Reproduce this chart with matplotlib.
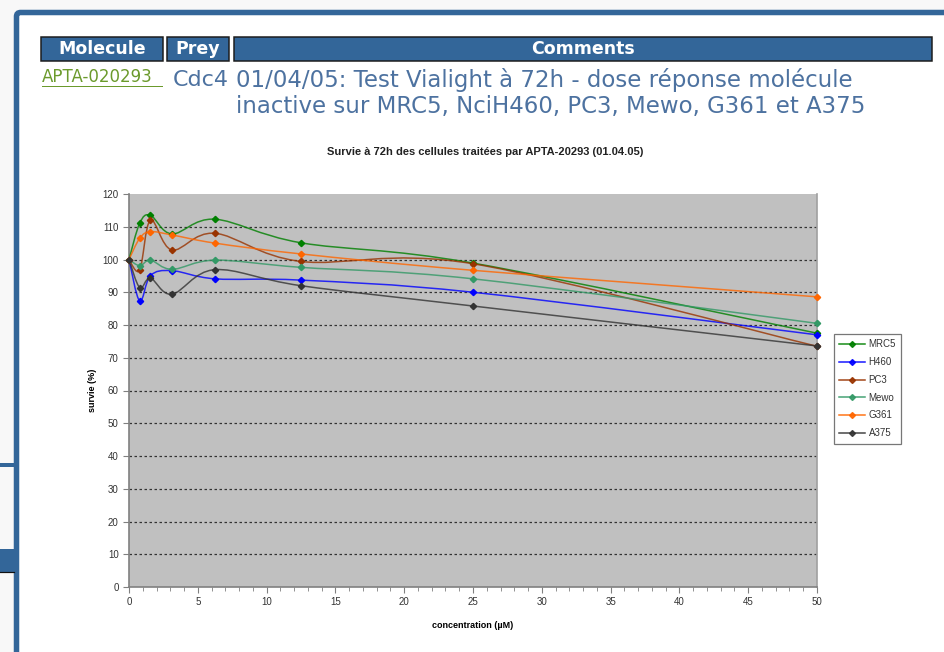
import numpy as np
import matplotlib
matplotlib.use("Agg")
import matplotlib.pyplot as plt
from matplotlib.path import Path
from matplotlib.patches import PathPatch, Rectangle, FancyBboxPatch
from matplotlib.lines import Line2D

# ---------------------------
# Data
# ---------------------------
conc = [0, 0.78, 1.56, 3.125, 6.25, 12.5, 25, 50]
mrc5 = [100, 111.1, 113.5, 107.8, 112.3, 105.1, 98.9, 77.5]
h460 = [100, 87.3, 95.1, 96.6, 94.1, 93.7, 90.0, 77.0]
pc3 = [100, 96.8, 112.0, 102.9, 108.0, 99.4, 98.7, 73.5]
mewo = [100, 98.1, 99.8, 97.0, 99.8, 97.6, 94.1, 80.5]
g361 = [100, 106.5, 108.5, 107.5, 105.0, 101.7, 96.7, 88.6]
a375 = [100, 91.4, 94.3, 89.4, 96.9, 92.0, 85.8, 73.6]

series_names = ["MRC5", "H460", "PC3", "Mewo", "G361", "A375"]
series_vals = [mrc5, h460, pc3, mewo, g361, a375]
series_cols = ["#008000", "#0000ff", "#993300", "#339966", "#ff6600", "#333333"]

W, H = 944, 652
fig = plt.figure(figsize=(W / 100, H / 100), dpi=100, facecolor="#f8f8f8")

# ---------------------------
# Page background (pixel coordinates)
# ---------------------------
bg = fig.add_axes([0, 0, 1, 1])
bg.set_xlim(0, W)
bg.set_ylim(H, 0)
bg.axis("off")

BLUE = "#336699"
PX = 72 / 100  # points per pixel

bg.add_patch(FancyBboxPatch((16.5, 12.5), 1100, 800,
                            boxstyle="round,pad=0,rounding_size=4",
                            facecolor="white", edgecolor=BLUE, lw=5.5 * PX))
# bits of the page behind the frame
bg.add_patch(Rectangle((0, 463), 14, 4, facecolor=BLUE, edgecolor="none"))
bg.add_patch(Rectangle((0, 549), 14, 23, facecolor=BLUE, edgecolor="none"))
bg.plot([0, 14], [572, 572], color="#111111", lw=1.2 * PX)

# header cells
cells = [(41, 163, "Molecule"), (167, 229, "Prey"), (234, 932, "Comments")]
for x0, x1, lab in cells:
    bg.add_patch(Rectangle((x0, 37), x1 - x0, 24, facecolor=BLUE,
                           edgecolor="#1b1b1b", lw=1.5 * PX))
    bg.text((x0 + x1) / 2, 49.5, lab, color="white", fontsize=12.5,
            fontweight="bold", ha="center", va="center", family="DejaVu Sans")

bg.text(42, 77, "APTA-020293", color="#6b9a2c", fontsize=12,
        ha="left", va="center", family="DejaVu Sans")
bg.plot([42, 162], [86, 86], color="#6b9a2c", lw=1 * PX)
TXT = "#4d72a0"
bg.text(173, 80, "Cdc4", color=TXT, fontsize=16, ha="left", va="center",
        family="DejaVu Sans")
bg.text(236, 80, "01/04/05: Test Vialight à 72h - dose réponse molécule",
        color=TXT, fontsize=16.5, ha="left", va="center", family="DejaVu Sans")
bg.text(236, 106, "inactive sur MRC5, NciH460, PC3, Mewo, G361 et A375",
        color=TXT, fontsize=16.5, ha="left", va="center", family="DejaVu Sans")

# ---------------------------
# Chart
# ---------------------------
L, R, T, B = 129, 817, 194, 587
ax = fig.add_axes([L / W, (H - B) / H, (R - L) / W, (B - T) / H])
ax.set_facecolor("#c0c0c0")
ax.set_xlim(0, 50)
ax.set_ylim(0, 120)

CF = "Liberation Sans"
ax.spines["top"].set_visible(False)
ax.spines["right"].set_color("#a0a0a0")
ax.spines["left"].set_color("#808080")
ax.spines["bottom"].set_color("#808080")
for s in ["left", "bottom", "right"]:
    ax.spines[s].set_linewidth(1.2)

ax.set_yticks(np.arange(0, 121, 10))
ax.set_xticks(np.arange(0, 51, 5))
ax.set_xticks(np.arange(0, 51, 1), minor=True)
ax.tick_params(axis="both", which="major", direction="out", length=4,
               color="#808080", labelsize=7, labelcolor="#333333")
ax.tick_params(axis="x", which="minor", direction="out", length=3,
               color="#808080")
for lab in ax.get_xticklabels() + ax.get_yticklabels():
    lab.set_family(CF)

for v in range(10, 120, 10):
    ax.axhline(v, color="#333333", lw=0.9, ls=(0, (2, 2)), zorder=1)


def smooth_path(xs, ys):
    # Excel-style smoothed line: cubic Bezier through the points
    pts = np.column_stack([xs, ys]).astype(float)
    n = len(pts)
    verts = [pts[0]]
    codes = [Path.MOVETO]
    for i in range(n - 1):
        p0 = pts[i - 1] if i > 0 else pts[i]
        p1 = pts[i]
        p2 = pts[i + 1]
        p3 = pts[i + 2] if i + 2 < n else pts[i + 1]
        c1 = p1 + (p2 - p0) / 6
        c2 = p2 - (p3 - p1) / 6
        verts += [c1, c2, p2]
        codes += [Path.CURVE4] * 3
    return Path(verts, codes)


handles = []
for name, vals, col in zip(series_names, series_vals, series_cols):
    ax.add_patch(PathPatch(smooth_path(conc, vals), fill=False, edgecolor=col,
                           lw=1.1, alpha=0.8, zorder=3))
    ax.plot(conc, vals, ls="none", marker="D", ms=3.2, color=col,
            clip_on=False, zorder=4)
    handles.append(Line2D([], [], color=col, lw=1.1, marker="D", ms=3,
                          alpha=0.9))

ax.set_ylabel("survie (%)", fontsize=6.5, fontweight="bold", family=CF,
              labelpad=4)
ax.set_xlabel("concentration (µM)", fontsize=6.5, fontweight="bold",
              family=CF, labelpad=10)

leg = ax.legend(handles, series_names, loc="upper left",
                bbox_to_anchor=((834 - L) / (R - L), (B - 334) / (B - T)),
                frameon=True, fancybox=False, borderaxespad=0,
                prop={"family": CF, "size": 7}, handlelength=2.6,
                handletextpad=0.4, labelspacing=0.8, borderpad=0.55)
leg.get_frame().set_edgecolor("#555555")
leg.get_frame().set_linewidth(0.9)
for t in leg.get_texts():
    t.set_color("#333333")

fig.text(485 / W, 1 - 152 / H,
         "Survie à 72h des cellules traitées par APTA-20293 (01.04.05)",
         ha="center", va="center", fontsize=8, fontweight="bold", family=CF,
         color="#222222")

fig.savefig("out.png", dpi=100, facecolor=fig.get_facecolor())
